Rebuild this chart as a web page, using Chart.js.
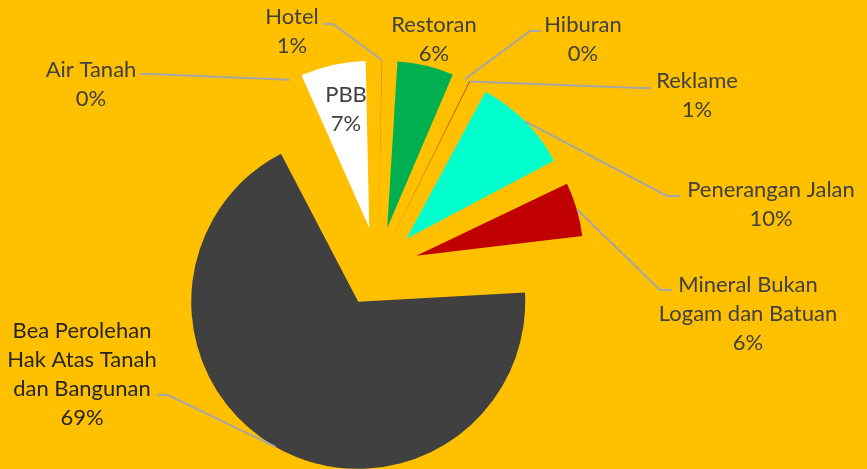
<!DOCTYPE html>
<html>
<head>
<meta charset="utf-8">
<script src="https://cdn.jsdelivr.net/npm/chart.js@4"></script>
<style>
  html, body { margin: 0; padding: 0; background: #FFC000; }
  #wrap { width: 867px; height: 469px; position: relative; }
</style>
</head>
<body>
<div id="wrap"><canvas id="pajakChart"></canvas></div>
<script>
// data (percent of total)
const categories = ['Hotel', 'Restoran', 'Hiburan', 'Reklame', 'Penerangan Jalan',
  'Mineral Bukan Logam dan Batuan', 'Bea Perolehan Hak Atas Tanah dan Bangunan', 'Air Tanah', 'PBB'];
const shares = [0.6, 6.2, 0.2, 0.6, 9.9, 6.0, 69.45, 0.05, 7.0];
const labelLines = [['Hotel'], ['Restoran'], ['Hiburan'], ['Reklame'], ['Penerangan Jalan'],
  ['Mineral Bukan', 'Logam dan Batuan'], ['Bea Perolehan', 'Hak Atas Tanah', 'dan Bangunan'], ['Air Tanah'], ['PBB']];

const sliceColors = ['#ED7D31', '#00B050', '#C55A11', '#8E420D', '#00FFCC', '#C00000', '#404040', '#A5A5A5', '#FFFFFF'];

// where each data label sits (first line centre) and its leader line (elbow, end)
const labelLayout = [
  { x: 292, y: 17, leader: [[333, 24], [323, 24]] },
  { x: 434, y: 25, leader: null },
  { x: 583, y: 25, leader: [[530, 31], [541, 31]] },
  { x: 697, y: 81, leader: [[640, 88], [651, 88]] },
  { x: 771, y: 190, leader: [[667, 196], [680, 196]] },
  { x: 748, y: 285, leader: [[660, 290], [672, 290]] },
  { x: 82, y: 331, leader: [[168, 395], [157, 395]] },
  { x: 91, y: 70, leader: [[150, 74], [140, 74]] },
  { x: 346, y: 95, leader: null }
];

const EXPLODE = 40; // px each slice is pulled out
const THIN = 0.1;   // radians; slivers below this keep chart.js' own radius growth

function arcFix(circ) {
  return 1 - Math.sin(Math.min(Math.PI, circ));
}

function sliceCirc(i) {
  const total = shares.reduce((a, b) => a + b, 0);
  return shares[i] / total * Math.PI * 2;
}

// slivers: offset/4*(1+fix) = EXPLODE ; wider slices: plain offset, radius fixed in plugin below
function sliceOffset(ctx) {
  const circ = sliceCirc(ctx.dataIndex);
  return circ < THIN ? EXPLODE * 4 / (1 + arcFix(circ)) : EXPLODE * 4;
}

// chart.js grows an exploded arc's radius by offset/4 * fix; shrink it back so the slices share one radius
const evenRadius = {
  id: 'evenRadius',
  beforeDatasetsDraw(chart) {
    const meta = chart.getDatasetMeta(0);
    const baseR = meta.controller.outerRadius;
    meta.data.forEach(arc => {
      if (arc.circumference < THIN) return;
      const o = (arc.options.offset || 0) / 4;
      arc.outerRadius = baseR - o * arcFix(arc.circumference);
    });
  }
};

const dataLabels = {
  id: 'dataLabels',
  afterDatasetsDraw(chart) {
    const ctx = chart.ctx;
    const meta = chart.getDatasetMeta(0);
    const total = shares.reduce((a, b) => a + b, 0);
    ctx.save();
    meta.data.forEach((arc, i) => {
      const mid = (arc.startAngle + arc.endAngle) / 2;
      const o = (arc.options.offset || 0) / 4;
      const dist = o + arc.outerRadius + o * arcFix(arc.circumference);
      const ax = arc.x + Math.cos(mid) * dist;
      const ay = arc.y + Math.sin(mid) * dist;
      const lay = labelLayout[i];
      if (lay.leader) {
        ctx.beginPath();
        ctx.moveTo(ax, ay);
        lay.leader.forEach(pt => ctx.lineTo(pt[0], pt[1]));
        ctx.strokeStyle = '#A6A6A6';
        ctx.lineWidth = 2;
        ctx.stroke();
      }
      const lines = labelLines[i].concat([Math.round(shares[i] / total * 100) + '%']);
      ctx.font = '22px Lato';
      ctx.fillStyle = i === 6 ? '#262626' : '#404040';
      ctx.textAlign = 'center';
      ctx.textBaseline = 'middle';
      lines.forEach((t, k) => ctx.fillText(t, lay.x, lay.y + k * 29));
    });
    ctx.restore();
  }
};

new Chart(document.getElementById('pajakChart'), {
  type: 'pie',
  data: {
    labels: categories,
    datasets: [{
      data: shares,
      backgroundColor: sliceColors,
      borderWidth: 0,
      offset: sliceOffset
    }]
  },
  options: {
    responsive: true,
    maintainAspectRatio: false,
    animation: false,
    radius: 167,
    layout: { padding: { left: 0, right: 111, top: 65, bottom: 0 } },
    plugins: {
      legend: { display: false },
      tooltip: { enabled: false }
    }
  },
  plugins: [evenRadius, dataLabels]
});
</script>
</body>
</html>
